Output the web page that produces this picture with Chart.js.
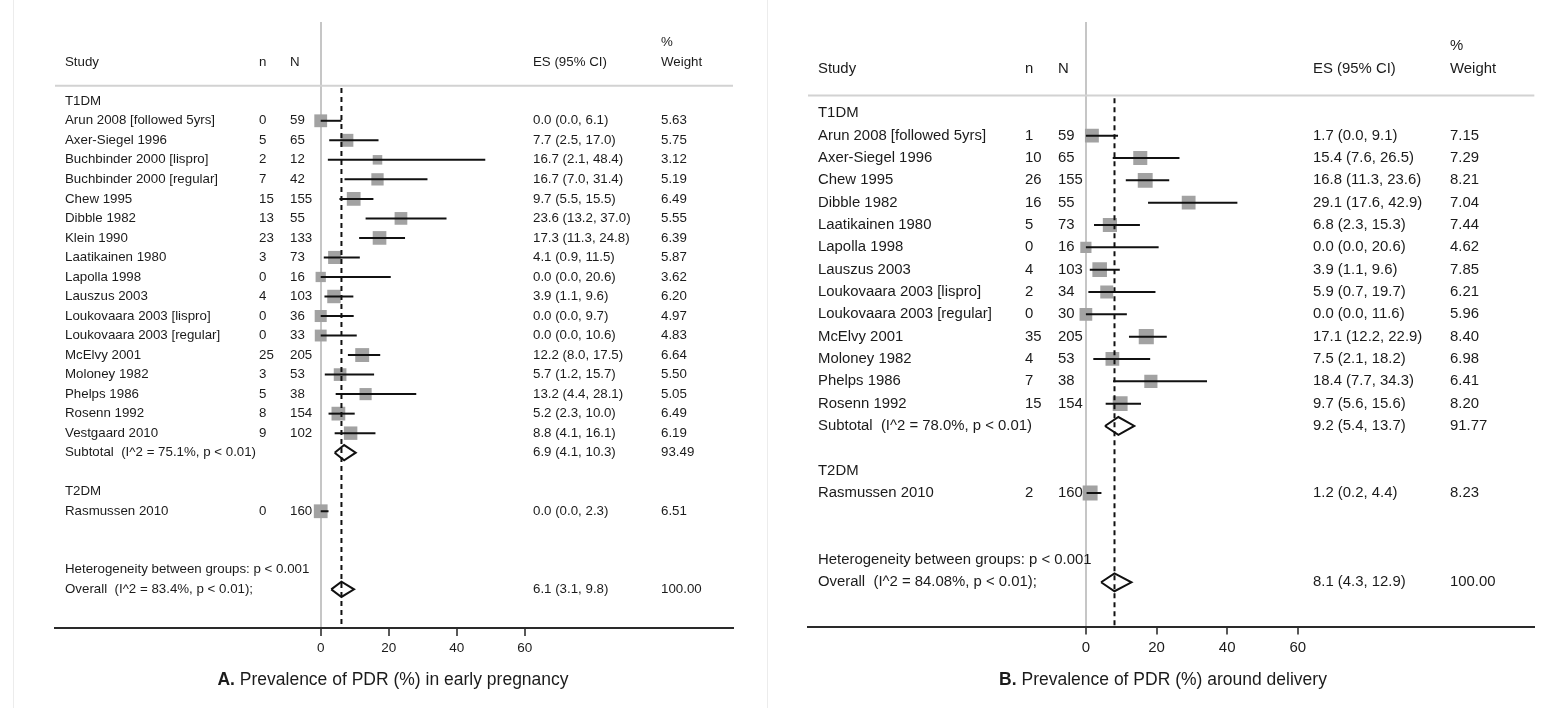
<!DOCTYPE html>
<html>
<head>
<meta charset="utf-8">
<title>Prevalence of PDR in pregnancy – forest plots</title>
<script src="https://cdn.jsdelivr.net/npm/chart.js@4/dist/chart.umd.min.js"></script>
<style>
  html, body { margin: 0; padding: 0; background: #fff; }
  #wrap { position: relative; width: 1545px; height: 708px; overflow: hidden; background: #fff; }
  #wrap canvas { position: absolute; top: 0; }
  #cA { left: 0; }
  #cB { left: 767px; }
  .edge { position: absolute; top: 0; width: 1px; height: 708px; background: #ececec; }
</style>
</head>
<body>
<div id="wrap">
  <div class="edge" style="left:13px"></div>
  <canvas id="cA" width="767" height="708"></canvas>
  <canvas id="cB" width="778" height="708"></canvas>
  <div class="edge" style="left:767px"></div>
</div>
<script>
// ---------- shared ----------
const xTicks = [0, 20, 40, 60];
const groupNames = ['T1DM', 'T2DM'];
const headStudy = 'Study', headN1 = 'n', headN2 = 'N', headES = 'ES (95% CI)', headPct = '%', headW = 'Weight';

// ---------- A. early pregnancy ----------
const studiesA = ['Arun 2008 [followed 5yrs]', 'Axer-Siegel 1996', 'Buchbinder 2000 [lispro]', 'Buchbinder 2000 [regular]',
  'Chew 1995', 'Dibble 1982', 'Klein 1990', 'Laatikainen 1980', 'Lapolla 1998', 'Lauszus 2003',
  'Loukovaara 2003 [lispro]', 'Loukovaara 2003 [regular]', 'McElvy 2001', 'Moloney 1982', 'Phelps 1986',
  'Rosenn 1992', 'Vestgaard 2010', 'Rasmussen 2010'];
const groupOfA = [0, 0, 0, 0, 0, 0, 0, 0, 0, 0, 0, 0, 0, 0, 0, 0, 0, 1];
const casesA   = [0, 5, 2, 7, 15, 13, 23, 3, 0, 4, 0, 0, 25, 3, 5, 8, 9, 0];
const totalA   = [59, 65, 12, 42, 155, 55, 133, 73, 16, 103, 36, 33, 205, 53, 38, 154, 102, 160];
const esA      = [0.0, 7.7, 16.7, 16.7, 9.7, 23.6, 17.3, 4.1, 0.0, 3.9, 0.0, 0.0, 12.2, 5.7, 13.2, 5.2, 8.8, 0.0];
const loA      = [0.0, 2.5, 2.1, 7.0, 5.5, 13.2, 11.3, 0.9, 0.0, 1.1, 0.0, 0.0, 8.0, 1.2, 4.4, 2.3, 4.1, 0.0];
const hiA      = [6.1, 17.0, 48.4, 31.4, 15.5, 37.0, 24.8, 11.5, 20.6, 9.6, 9.7, 10.6, 17.5, 15.7, 28.1, 10.0, 16.1, 2.3];
const weightA  = [5.63, 5.75, 3.12, 5.19, 6.49, 5.55, 6.39, 5.87, 3.62, 6.20, 4.97, 4.83, 6.64, 5.50, 5.05, 6.49, 6.19, 6.51];
const subGroupA  = [0];
const subLabelA  = ['Subtotal  (I^2 = 75.1%, p < 0.01)'];
const subEsA     = [6.9];
const subLoA     = [4.1];
const subHiA     = [10.3];
const subWeightA = [93.49];
const hetLabelA = 'Heterogeneity between groups: p < 0.001';
const overallLabelA = 'Overall  (I^2 = 83.4%, p < 0.01);';
const overallA = [6.1, 3.1, 9.8];        // ES, lower, upper
const overallWeightA = 100.00;
const captionLeadA = 'A.';
const captionTextA = ' Prevalence of PDR (%) in early pregnancy';

// ---------- B. around delivery ----------
const studiesB = ['Arun 2008 [followed 5yrs]', 'Axer-Siegel 1996', 'Chew 1995', 'Dibble 1982', 'Laatikainen 1980',
  'Lapolla 1998', 'Lauszus 2003', 'Loukovaara 2003 [lispro]', 'Loukovaara 2003 [regular]', 'McElvy 2001',
  'Moloney 1982', 'Phelps 1986', 'Rosenn 1992', 'Rasmussen 2010'];
const groupOfB = [0, 0, 0, 0, 0, 0, 0, 0, 0, 0, 0, 0, 0, 1];
const casesB   = [1, 10, 26, 16, 5, 0, 4, 2, 0, 35, 4, 7, 15, 2];
const totalB   = [59, 65, 155, 55, 73, 16, 103, 34, 30, 205, 53, 38, 154, 160];
const esB      = [1.7, 15.4, 16.8, 29.1, 6.8, 0.0, 3.9, 5.9, 0.0, 17.1, 7.5, 18.4, 9.7, 1.2];
const loB      = [0.0, 7.6, 11.3, 17.6, 2.3, 0.0, 1.1, 0.7, 0.0, 12.2, 2.1, 7.7, 5.6, 0.2];
const hiB      = [9.1, 26.5, 23.6, 42.9, 15.3, 20.6, 9.6, 19.7, 11.6, 22.9, 18.2, 34.3, 15.6, 4.4];
const weightB  = [7.15, 7.29, 8.21, 7.04, 7.44, 4.62, 7.85, 6.21, 5.96, 8.40, 6.98, 6.41, 8.20, 8.23];
const subGroupB  = [0];
const subLabelB  = ['Subtotal  (I^2 = 78.0%, p < 0.01)'];
const subEsB     = [9.2];
const subLoB     = [5.4];
const subHiB     = [13.7];
const subWeightB = [91.77];
const hetLabelB = 'Heterogeneity between groups: p < 0.001';
const overallLabelB = 'Overall  (I^2 = 84.08%, p < 0.01);';
const overallB = [8.1, 4.3, 12.9];
const overallWeightB = 100.00;
const captionLeadB = 'B.';
const captionTextB = ' Prevalence of PDR (%) around delivery';

// ---------- helpers ----------
const fmtCI = (es, lo, hi) => `${es.toFixed(1)} (${lo.toFixed(1)}, ${hi.toFixed(1)})`;
const FONT = '"Liberation Sans", Arial, Helvetica, sans-serif';
const INK = '#1b1b1b';

// Row index for every line of the table: group heading, studies, subtotal, blank, ...
function layoutRows(groupOf, subGroup) {
  const rows = { group: [], study: [], sub: [] };
  let r = 0;
  groupNames.forEach((g, gi) => {
    if (!groupOf.includes(gi)) return;
    rows.group[gi] = r++;
    groupOf.forEach((go, i) => { if (go === gi) rows.study[i] = r++; });
    const si = subGroup.indexOf(gi);
    if (si >= 0) rows.sub[si] = r++;
    r++;
  });
  rows.het = r + 1;
  rows.overall = r + 2;
  return rows;
}

function forestPanel(d, L) {
  const rows = layoutRows(d.groupOf, d.subGroup);
  const datasets = [];
  const boxRadius = w => L.boxScale * Math.sqrt(w) / Math.SQRT2;

  // study boxes (area proportional to weight)
  datasets.push({
    data: d.es.map((v, i) => ({ x: v, y: rows.study[i] })),
    pointStyle: 'rect',
    pointRadius: d.weight.map(boxRadius),
    pointHoverRadius: d.weight.map(boxRadius),
    backgroundColor: '#a2a2a2',
    borderWidth: 0,
    order: 3
  });

  // confidence intervals
  d.es.forEach((v, i) => {
    datasets.push({
      showLine: true,
      data: [{ x: d.lo[i], y: rows.study[i] }, { x: d.hi[i], y: rows.study[i] }],
      borderColor: '#111', borderWidth: 2, pointRadius: 0, order: 2
    });
  });

  // pooled diamonds
  const diamond = (es, lo, hi, r) => ({
    showLine: true,
    data: [{ x: lo, y: r }, { x: es, y: r - L.diamondHalf }, { x: hi, y: r }, { x: es, y: r + L.diamondHalf }, { x: lo, y: r }],
    borderColor: '#111', borderWidth: 2, pointRadius: 0, fill: false, tension: 0, order: 2
  });
  d.subEs.forEach((v, i) => datasets.push(diamond(v, d.subLo[i], d.subHi[i], rows.sub[i])));
  datasets.push(diamond(d.overall[0], d.overall[1], d.overall[2], rows.overall));

  // overall estimate reference line
  datasets.push({
    showLine: true,
    data: [{ x: d.overall[0], y: L.ruleRow + 0.12 }, { x: d.overall[0], y: L.yMax }],
    borderColor: '#111', borderWidth: 2, borderDash: [5, 4], pointRadius: 0, order: 1
  });

  const tablePlugin = {
    id: 'forestTable',
    afterDraw(chart) {
      const ctx = chart.ctx, ys = chart.scales.y, a = chart.chartArea;
      const py = r => ys.getPixelForValue(r);
      const c = L.cols;
      ctx.save();
      // rule under the column headings
      ctx.strokeStyle = '#d2d2d2';
      ctx.lineWidth = 2;
      ctx.beginPath();
      ctx.moveTo(a.left, py(L.ruleRow));
      ctx.lineTo(a.right, py(L.ruleRow));
      ctx.stroke();

      ctx.fillStyle = INK;
      ctx.textBaseline = 'middle';
      ctx.textAlign = 'left';
      ctx.font = `${L.font}px ${FONT}`;
      const put = (s, x, r) => ctx.fillText(s, x, py(r));

      put(headPct, c.w, -3);
      put(headStudy, c.study, -2);
      put(headN1, c.n, -2);
      put(headN2, c.N, -2);
      put(headES, c.es, -2);
      put(headW, c.w, -2);

      groupNames.forEach((g, gi) => { if (rows.group[gi] !== undefined) put(g, c.study, rows.group[gi]); });
      d.studies.forEach((s, i) => {
        const r = rows.study[i];
        put(s, c.study, r);
        put(String(d.cases[i]), c.n, r);
        put(String(d.total[i]), c.N, r);
        put(fmtCI(d.es[i], d.lo[i], d.hi[i]), c.es, r);
        put(d.weight[i].toFixed(2), c.w, r);
      });
      d.subLabel.forEach((s, i) => {
        const r = rows.sub[i];
        put(s, c.study, r);
        put(fmtCI(d.subEs[i], d.subLo[i], d.subHi[i]), c.es, r);
        put(d.subWeight[i].toFixed(2), c.w, r);
      });
      put(d.hetLabel, c.study, rows.het);
      put(d.overallLabel, c.study, rows.overall);
      put(fmtCI(d.overall[0], d.overall[1], d.overall[2]), c.es, rows.overall);
      put(d.overallWeight.toFixed(2), c.w, rows.overall);

      // caption: bold panel letter followed by the description
      ctx.font = `bold ${L.captionSize}px ${FONT}`;
      const w1 = ctx.measureText(d.captionLead).width;
      ctx.font = `${L.captionSize}px ${FONT}`;
      const w2 = ctx.measureText(d.captionText).width;
      const x0 = L.captionX - (w1 + w2) / 2;
      ctx.font = `bold ${L.captionSize}px ${FONT}`;
      ctx.fillText(d.captionLead, x0, L.captionY);
      ctx.font = `${L.captionSize}px ${FONT}`;
      ctx.fillText(d.captionText, x0 + w1, L.captionY);
      ctx.restore();
    }
  };

  return new Chart(document.getElementById(L.canvas), {
    type: 'scatter',
    data: { datasets },
    options: {
      responsive: false,
      animation: false,
      devicePixelRatio: 1,
      events: [],
      layout: { padding: { left: L.padLeft, right: L.padRight, top: L.padTop, bottom: 0 } },
      plugins: { legend: { display: false }, tooltip: { enabled: false } },
      scales: {
        x: {
          type: 'linear',
          position: 'bottom',
          min: L.xMin,
          max: L.xMax,
          afterBuildTicks: s => { s.ticks = xTicks.map(v => ({ value: v })); },
          afterFit: s => { s.height = L.axisHeight; },
          ticks: {
            autoSkip: false, maxRotation: 0, padding: 4,
            color: INK,
            font: { family: FONT, size: L.tickFont },
            callback: v => String(v)
          },
          grid: {
            drawOnChartArea: true,
            color: ctx => (ctx.tick && ctx.tick.value === 0) ? '#c6c6c6' : 'rgba(0,0,0,0)',
            lineWidth: 2,
            tickColor: '#222',
            tickWidth: 1.5,
            tickLength: 8
          },
          border: { display: true, color: '#2a2a2a', width: 2 }
        },
        y: {
          type: 'linear',
          reverse: true,
          min: L.yMin,
          max: L.yMax,
          display: false
        }
      }
    },
    plugins: [tablePlugin]
  });
}

// ---------- draw ----------
forestPanel({
  studies: studiesA, groupOf: groupOfA, cases: casesA, total: totalA,
  es: esA, lo: loA, hi: hiA, weight: weightA,
  subGroup: subGroupA, subLabel: subLabelA, subEs: subEsA, subLo: subLoA, subHi: subHiA, subWeight: subWeightA,
  hetLabel: hetLabelA, overallLabel: overallLabelA, overall: overallA, overallWeight: overallWeightA,
  captionLead: captionLeadA, captionText: captionTextA
}, {
  canvas: 'cA', xMin: -78.15, xMax: 121.26, yMin: -4.06, yMax: 26.98,
  padLeft: 55, padRight: 34, padTop: 22, axisHeight: 80,
  font: 13.3, tickFont: 13.5, boxScale: 5.4, diamondHalf: 0.39, ruleRow: -0.8,
  cols: { study: 65, n: 259, N: 290, es: 533, w: 661 },
  captionX: 393, captionY: 680, captionSize: 17.5
});

forestPanel({
  studies: studiesB, groupOf: groupOfB, cases: casesB, total: totalB,
  es: esB, lo: loB, hi: hiB, weight: weightB,
  subGroup: subGroupB, subLabel: subLabelB, subEs: subEsB, subLo: subLoB, subHi: subHiB, subWeight: subWeightB,
  hetLabel: hetLabelB, overallLabel: overallLabelB, overall: overallB, overallWeight: overallWeightB,
  captionLead: captionLeadB, captionText: captionTextB
}, {
  canvas: 'cB', xMin: -78.7, xMax: 127.0, yMin: -4.09, yMax: 22.98,
  padLeft: 41, padRight: 0, padTop: 22, axisHeight: 81.5,
  font: 14.9, tickFont: 15, boxScale: 5.2, diamondHalf: 0.4, ruleRow: -0.8,
  cols: { study: 51, n: 258, N: 291, es: 546, w: 683 },
  captionX: 396, captionY: 680, captionSize: 17.5
});
</script>
</body>
</html>
